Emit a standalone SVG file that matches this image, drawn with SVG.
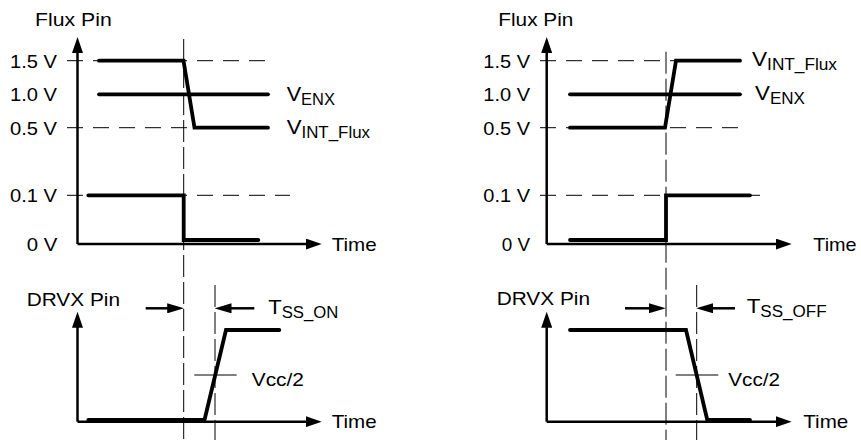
<svg xmlns="http://www.w3.org/2000/svg" width="861" height="440" viewBox="0 0 861 440">
<defs>
<style>
text{font-family:"Liberation Sans",Arial,Helvetica,sans-serif;fill:#000;font-size:19px}
.sub{font-size:16px}
.big{font-size:21px}
.axis{stroke:#000;stroke-width:2.5;fill:none}
.trace{stroke:#000;stroke-width:3.8;fill:none;stroke-linecap:round;stroke-linejoin:miter}
.hdash{stroke:#000;stroke-width:1;stroke-dasharray:16 10;fill:none}
.vdash{stroke:#000;stroke-width:1;stroke-dasharray:22 5;fill:none}
.thin{stroke:#000;stroke-width:1;fill:none}
.dim{stroke:#000;stroke-width:2.5;fill:none}
</style>
<marker id="axArrow" viewBox="0 0 16 11" refX="8" refY="5.5" markerWidth="16" markerHeight="11" markerUnits="userSpaceOnUse" orient="auto">
<path d="M0,0 L16,5.5 L0,11 z" fill="#000"/>
</marker>
<marker id="dimArrow" viewBox="0 0 17 10" refX="8" refY="5" markerWidth="17" markerHeight="10" markerUnits="userSpaceOnUse" orient="auto">
<path d="M0,0 L17,5 L0,10 z" fill="#000"/>
</marker>
</defs>

<g id="left-flux">
<text x="35" y="26" textLength="76.7" lengthAdjust="spacingAndGlyphs">Flux Pin</text>
<text x="10" y="67.5" textLength="47" lengthAdjust="spacingAndGlyphs">1.5 V</text>
<text x="10" y="101" textLength="47" lengthAdjust="spacingAndGlyphs">1.0 V</text>
<text x="10" y="134.5" textLength="47" lengthAdjust="spacingAndGlyphs">0.5 V</text>
<text x="10" y="202" textLength="47" lengthAdjust="spacingAndGlyphs">0.1 V</text>
<text x="26.7" y="251" textLength="30.6" lengthAdjust="spacingAndGlyphs">0 V</text>
<text x="331.7" y="251" textLength="45" lengthAdjust="spacingAndGlyphs">Time</text>
<path class="hdash" d="M67,60.7 H268 M67,127.7 H268 M67,195.3 H290"/>
<path class="axis" d="M77.5,244 V45" marker-end="url(#axArrow)"/>
<path class="axis" d="M77.5,244 H313.7" marker-end="url(#axArrow)"/>
<path class="trace" d="M99,60.7 H183.5 L194.5,127.7 H268"/>
<path class="trace" d="M99,94.3 H268"/>
<path class="trace" d="M88.3,195.3 H183.7 V240 H258.3"/>
<text x="286.7" y="101" class="big" textLength="48.3" lengthAdjust="spacingAndGlyphs">V<tspan class="sub" dy="4">ENX</tspan></text>
<text x="286.7" y="134" class="big" textLength="83.3" lengthAdjust="spacingAndGlyphs">V<tspan class="sub" dy="4">INT_Flux</tspan></text>
</g>

<g id="left-drvx">
<text x="26.7" y="306" textLength="93.3" lengthAdjust="spacingAndGlyphs">DRVX Pin</text>
<text x="331.7" y="428" textLength="45" lengthAdjust="spacingAndGlyphs">Time</text>
<path class="axis" d="M77.5,421.7 V319.7" marker-end="url(#axArrow)"/>
<path class="axis" d="M77.5,421.7 H313.7" marker-end="url(#axArrow)"/>
<path class="trace" d="M88.3,420 H204.5 L226,330 H279.3"/>
<path class="thin" d="M194.3,375 H236.7"/>
<text x="251.7" y="385.5" textLength="52.3" lengthAdjust="spacingAndGlyphs">Vcc/2</text>
<text x="268.3" y="313.5" class="big" textLength="70" lengthAdjust="spacingAndGlyphs">T<tspan class="sub" dy="4">SS_ON</tspan></text>
</g>

<g id="right-flux">
<text x="498.3" y="26" textLength="75" lengthAdjust="spacingAndGlyphs">Flux Pin</text>
<text x="483.3" y="67.5" textLength="46.7" lengthAdjust="spacingAndGlyphs">1.5 V</text>
<text x="483.3" y="101" textLength="46.7" lengthAdjust="spacingAndGlyphs">1.0 V</text>
<text x="483.3" y="134.5" textLength="46.7" lengthAdjust="spacingAndGlyphs">0.5 V</text>
<text x="483.3" y="202" textLength="46.7" lengthAdjust="spacingAndGlyphs">0.1 V</text>
<text x="501.7" y="251" textLength="28.3" lengthAdjust="spacingAndGlyphs">0 V</text>
<text x="813.3" y="251" textLength="43.3" lengthAdjust="spacingAndGlyphs">Time</text>
<path class="hdash" d="M540,60.7 H740 M540,127.7 H740 M540,195.3 H760"/>
<path class="axis" d="M546.7,244 V45" marker-end="url(#axArrow)"/>
<path class="axis" d="M546.7,244 H783.7" marker-end="url(#axArrow)"/>
<path class="trace" d="M570,127.7 H665 L676,60.7 H740"/>
<path class="trace" d="M570,94.3 H740"/>
<path class="trace" d="M570,240 H666 V195.3 H750"/>
<text x="752" y="66" class="big" textLength="85" lengthAdjust="spacingAndGlyphs">V<tspan class="sub" dy="4">INT_Flux</tspan></text>
<text x="755" y="100" class="big" textLength="50" lengthAdjust="spacingAndGlyphs">V<tspan class="sub" dy="4">ENX</tspan></text>
</g>

<g id="right-drvx">
<text x="496.7" y="304.5" textLength="93.3" lengthAdjust="spacingAndGlyphs">DRVX Pin</text>
<text x="803.3" y="428" textLength="45" lengthAdjust="spacingAndGlyphs">Time</text>
<path class="axis" d="M546.7,421.7 V319.7" marker-end="url(#axArrow)"/>
<path class="axis" d="M546.7,421.7 H783.7" marker-end="url(#axArrow)"/>
<path class="trace" d="M570,330 H686 L707.3,420 H750"/>
<path class="thin" d="M675.7,375 H718.3"/>
<text x="728.3" y="385.5" textLength="51.7" lengthAdjust="spacingAndGlyphs">Vcc/2</text>
<text x="746.7" y="313" class="big" textLength="80" lengthAdjust="spacingAndGlyphs">T<tspan class="sub" dy="4">SS_OFF</tspan></text>
</g>

<g id="connectors">
<path class="vdash" d="M183.7,39 V440"/>
<path class="vdash" d="M215,285 V440"/>
<path class="vdash" d="M666,51.7 V440"/>
<path class="vdash" d="M696.7,285 V440"/>
<path class="dim" d="M145.7,308.3 H175.2" marker-end="url(#dimArrow)"/>
<path class="dim" d="M254.3,308.3 H223.5" marker-end="url(#dimArrow)"/>
<path class="dim" d="M625,308.3 H656.8" marker-end="url(#dimArrow)"/>
<path class="dim" d="M735,308.3 H705.2" marker-end="url(#dimArrow)"/>
</g>
</svg>
